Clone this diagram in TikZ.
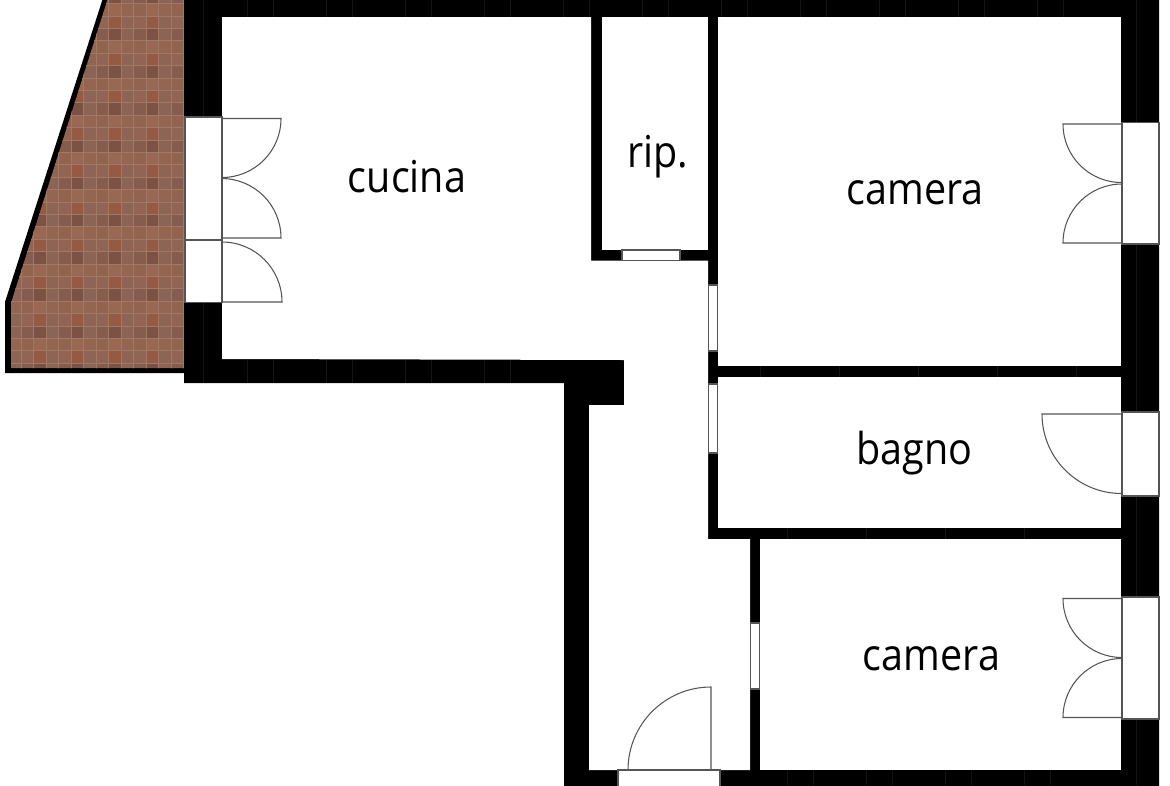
\documentclass[tikz,border=0pt]{standalone}
\usepackage{fontspec}
\setmainfont[FakeStretch=0.9]{Open Sans}
\usepackage{tikz}
\definecolor{tileAa}{RGB}{148,90,68}
\definecolor{tileAb}{RGB}{142,100,84}
\definecolor{tileAc}{RGB}{145,100,84}
\definecolor{tileBa}{RGB}{124,82,68}
\definecolor{tileBb}{RGB}{140,100,86}
\definecolor{tileBc}{RGB}{134,92,78}
\definecolor{tileCa}{RGB}{152,104,82}
\definecolor{tileCb}{RGB}{148,102,82}
\definecolor{tileCc}{RGB}{146,100,80}
\definecolor{tileline}{RGB}{160,120,100}
\definecolor{seam}{RGB}{20,20,20}
\definecolor{edge}{RGB}{85,85,85}

\begin{document}
\begin{tikzpicture}[x=0.02cm, y=-0.02cm,
            wall/.style={fill=black},
            room/.style={fill=white},
            opening/.style={fill=white, draw=edge, line width=0.6pt},
            swing/.style={draw=edge, line width=0.6pt},
            seamline/.style={draw=seam, line width=0.3pt},
            label/.style={anchor=base, text=black, font=\fontsize{25}{30}\selectfont}
        ]
        \useasboundingbox (0,0) rectangle (1170,785);

        % terrace
        \fill[black] (103,-2) -- (5,302) -- (5,373) -- (184,373) -- (184,-2) -- cycle;
        \begin{scope}
            \clip (108,-2) -- (11,303) -- (11,368) -- (184,368) -- (184,-2) -- cycle;
            \foreach \i in {0,...,14}
                \foreach \j in {0,...,31} {
                    \pgfmathtruncatemacro{\c}{mod(\i+1,3)}
                    \pgfmathtruncatemacro{\r}{mod(\j,3)}
                    \edef\tilecol{tile\ifcase\r B\or C\or A\fi\ifcase\c a\or b\or c\fi}
                    \filldraw[fill=\tilecol, draw=tileline, line width=0.3pt]
                        (8.3+12.5*\i,-8.9+12.4*\j) rectangle ++(12.5,12.4);
                }
        \end{scope}

        % walls and rooms
        \fill[wall] (184,-2) -- (1159,-2) -- (1159,788) -- (564,788) -- (564,383) -- (184,383) -- cycle;
        \fill[room] (222,17) -- (591,17) -- (591,260.5) -- (708,260.5) -- (708,539) -- (750,539)
            -- (750,770) -- (589,770) -- (589,405) -- (624,405) -- (624,360) -- (222,359) -- cycle;
        \fill[room] (602,17) rectangle (708,250);
        \fill[room] (718,17) rectangle (1121,366);
        \fill[room] (718,377) rectangle (1121,528);
        \fill[room] (760,539) rectangle (1121,770);

        % joints in the walls
        \foreach \x in {247,326,...,1037}
            \draw[seamline] (\x,0) -- (\x,17);
        \foreach \x in {273,352,...,1063}
            \draw[seamline] (\x,0) -- (\x,17);
        \foreach \x in {247,326,...,530}
            \draw[seamline] (\x,360) -- (\x,383);
        \foreach \x in {273,352,...,530}
            \draw[seamline] (\x,360) -- (\x,383);
        \foreach \x in {787,866,...,1100}
            \draw[seamline] (\x,770) -- (\x,785);
        \foreach \x in {813,892,...,1100}
            \draw[seamline] (\x,770) -- (\x,785);
        \foreach \x in {787,866,...,1100}
            \draw[seamline] (\x,528) -- (\x,539);
        \foreach \x in {760,839,...,1100}
            \draw[seamline] (\x,366) -- (\x,377);
        \draw[seamline] (203,0) -- (203,117);
        \draw[seamline] (203,303) -- (203,383);
        \draw[seamline] (1136,0) -- (1136,122);
        \draw[seamline] (1136,244) -- (1136,412);
        \draw[seamline] (1136,496) -- (1136,597);
        \draw[seamline] (1136,719) -- (1136,785);

        % openings
        \filldraw[opening] (185,117) rectangle (222,240);
        \filldraw[opening] (185,240) rectangle (222,302.5);
        \filldraw[opening] (622,250) rectangle (680,260.5);
        \filldraw[opening] (708.5,285) rectangle (717.5,351);
        \filldraw[opening] (708.5,384) rectangle (717.5,453);
        \filldraw[opening] (750.5,623) rectangle (759.5,689);
        \filldraw[opening] (1122,122.5) rectangle (1159,244);
        \filldraw[opening] (1122,412) rectangle (1159,496);
        \filldraw[opening] (1122,597) rectangle (1159,719);
        \filldraw[opening] (618,770) rectangle (720,790);

        % door leaves
        \draw[swing] (222,118.5) -- (281,118.5) arc[start angle=0, end angle=90, radius=59];
        \draw[swing] (222,238) -- (281,238) arc[start angle=0, end angle=-90, radius=59.5];
        \draw[swing] (222,302) -- (282,302) arc[start angle=0, end angle=-90, radius=60];
        \draw[swing] (1121,124) -- (1063,124) arc[start angle=180, end angle=90, radius=58.5];
        \draw[swing] (1121,243) -- (1063,243) arc[start angle=180, end angle=270, radius=59];
        \draw[swing] (1121,414) -- (1042,414) arc[start angle=180, end angle=90, radius=79.5];
        \draw[swing] (1121,598.5) -- (1063,598.5) arc[start angle=180, end angle=90, radius=59];
        \draw[swing] (1121,717.5) -- (1063,717.5) arc[start angle=180, end angle=270, radius=59];
        \draw[swing] (711,770) -- (711,687) arc[start angle=270, end angle=180, radius=83];
        \draw[swing] (628,770) -- (711,770);

        \node[label] (cucina) at (407,192) {cucina};
        \node[label] (rip) at (658,167) {rip.};
        \node[label] (camerauno) at (915,204) {camera};
        \node[label] (bagno) at (914.5,464) {bagno};
        \node[label] (cameradue) at (931.5,670) {camera};
\end{tikzpicture}
\end{document}
